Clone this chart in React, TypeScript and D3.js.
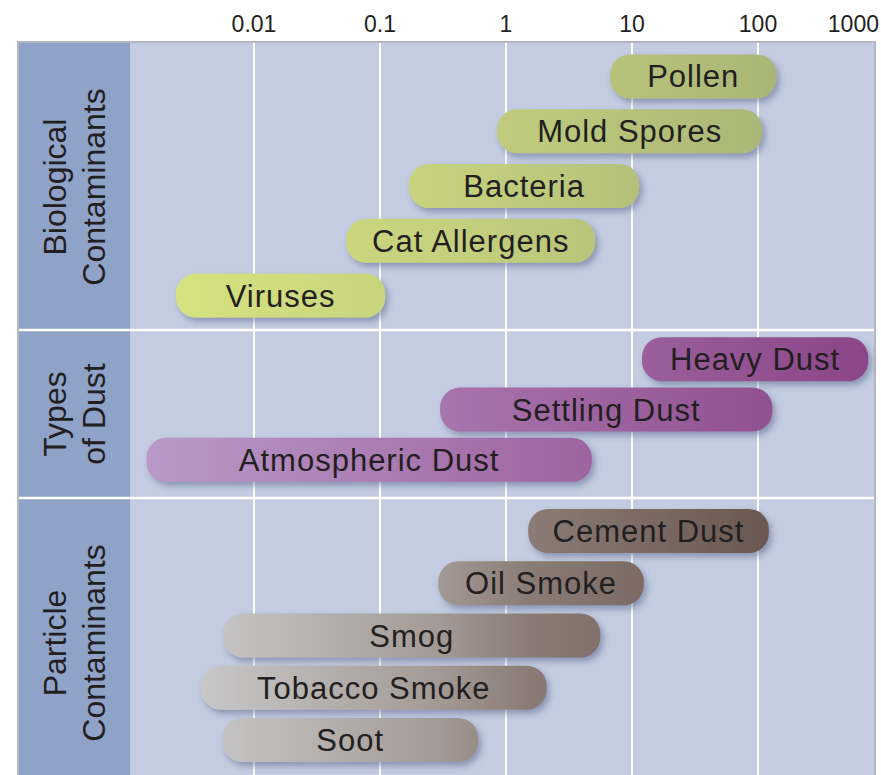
import React from "react";
import * as d3 from "d3";

const tickValues = [0.01, 0.1, 1, 10, 100, 1000];
const tickLabels = ["0.01", "0.1", "1", "10", "100", "1000"];

const groupLabels = [["Biological", "Contaminants"], ["Types", "of Dust"], ["Particle", "Contaminants"]];

const bioNames = ["Pollen", "Mold Spores", "Bacteria", "Cat Allergens", "Viruses"];
const bioMin = [6.7, 0.85, 0.17, 0.054, 0.0024];
const bioMax = [140, 108, 11.4, 5.1, 0.11];

const dustNames = ["Heavy Dust", "Settling Dust", "Atmospheric Dust"];
const dustMin = [12, 0.3, 0.0014];
const dustMax = [750, 130, 4.8];

const partNames = ["Cement Dust", "Oil Smoke", "Smog", "Tobacco Smoke", "Soot"];
const partMin = [1.5, 0.29, 0.0057, 0.0038, 0.0056];
const partMax = [122, 12.4, 5.6, 2.1, 0.6];

const W = 881;
const H = 775;
const frameL = 18;
const stripR = 130;
const frameR = 875;
const frameT = 42;
const groupBounds = [
  [42, 330],
  [330, 498],
  [498, 775],
];
const bandRanges = [
  [49, 323],
  [334, 485],
  [505, 766],
];
const barH = 44;
const FONT = "'Liberation Sans', Arial, Helvetica, sans-serif";

const x = d3.scaleLog().domain([0.001, 1000]).range([128, 884]);

const gradients = [
  { id: "gBio", stops: [[150, "#d8e47f"], [480, "#c2ce7c"], [780, "#a9b576"]] },
  { id: "gDust", stops: [[150, "#b899c7"], [450, "#a773ad"], [870, "#8b4688"]] },
  { id: "gPart", stops: [[200, "#c8c8c8"], [440, "#a39994"], [530, "#8a7b75"], [770, "#695850"]] },
];

const groups = [
  { names: bioNames, min: bioMin, max: bioMax, grad: "gBio" },
  { names: dustNames, min: dustMin, max: dustMax, grad: "gDust" },
  { names: partNames, min: partMin, max: partMax, grad: "gPart" },
];
const labelCenters = [187, 414, 643];

export default function App() {
  return (
    <svg width={W} height={H} style={{ position: "absolute", left: 0, top: 0 }} fontFamily={FONT}>
      <defs>
        {gradients.map((g) => (
          <linearGradient key={g.id} id={g.id} gradientUnits="userSpaceOnUse" x1={130} x2={875} y1={0} y2={0}>
            {g.stops.map(([px, c], i) => (
              <stop key={i} offset={((px as number) - 130) / (875 - 130)} stopColor={c as string} />
            ))}
          </linearGradient>
        ))}
        <filter id="shadow" x="-10%" y="-30%" width="125%" height="180%">
          <feDropShadow dx={3} dy={4} stdDeviation={3} floodColor="#46557c" floodOpacity={0.45} />
        </filter>
        <clipPath id="plotClip">
          <rect x={stripR} y={frameT} width={frameR - stripR} height={H - frameT} />
        </clipPath>
      </defs>
      <rect x={0} y={0} width={W} height={H} fill="#ffffff" />
      <rect x={frameL} y={frameT} width={frameR - frameL} height={H - frameT + 5} fill="#c3cce0" stroke="#b4b7c0" strokeWidth={2} />
      <rect x={frameL + 1} y={frameT + 1} width={stripR - frameL - 1} height={H - frameT} fill="#8fa2c8" />
      <g clipPath="url(#plotClip)">
        {tickValues.map((v) => (
          <line key={v} x1={x(v)} x2={x(v)} y1={frameT + 1} y2={H} stroke="#ffffff" strokeWidth={2} />
        ))}
      </g>
      {groupBounds.slice(1).map((b, i) => (
        <line key={i} x1={frameL + 1} x2={frameR - 1} y1={b[0]} y2={b[0]} stroke="#ffffff" strokeWidth={2.5} />
      ))}
      {tickValues.map((v, i) => {
        const last = i === tickValues.length - 1;
        return (
          <text
            key={v}
            x={last ? 879 : x(v)}
            y={32}
            textAnchor={last ? "end" : "middle"}
            fontSize={23}
            fill="#231f20"
          >
            {tickLabels[i]}
          </text>
        );
      })}
      {groupLabels.map((lines, gi) => (
        <text
          key={gi}
          transform={`translate(0,${labelCenters[gi]}) rotate(-90)`}
          textAnchor="middle"
          fontSize={32}
          fill="#231f20"
        >
          {lines.map((ln, li) => (
            <tspan key={li} x={0} y={li === 0 ? 66 : 105}>
              {ln}
            </tspan>
          ))}
        </text>
      ))}
      {groups.map((g, gi) => {
        const y = d3
          .scaleBand<string>()
          .domain(g.names)
          .range(bandRanges[gi] as [number, number])
          .paddingInner(0);
        return (
          <g key={gi}>
            {g.names.map((n, i) => {
              const cy = (y(n) as number) + y.bandwidth() / 2;
              const x0 = x(g.min[i]);
              const x1 = x(g.max[i]);
              return (
                <g key={n}>
                  <rect
                    x={x0}
                    y={cy - barH / 2}
                    width={x1 - x0}
                    height={barH}
                    rx={20}
                    ry={20}
                    fill={`url(#${g.grad})`}
                    filter="url(#shadow)"
                  />
                  <text
                    x={(x0 + x1) / 2}
                    y={cy + 11}
                    textAnchor="middle"
                    fontSize={31}
                    letterSpacing={1}
                    fill="#231f20"
                  >
                    {n}
                  </text>
                </g>
              );
            })}
          </g>
        );
      })}
    </svg>
  );
}
